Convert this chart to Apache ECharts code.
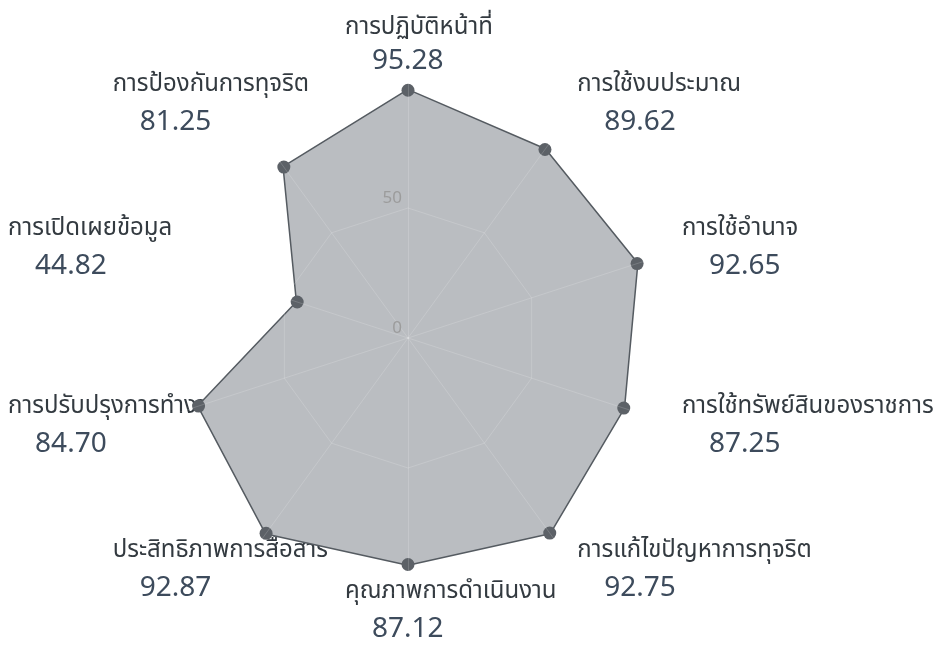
<!DOCTYPE html>
<html>
<head>
<meta charset="utf-8">
<script src="https://cdn.jsdelivr.net/npm/echarts@6/dist/echarts.min.js"></script>
<style>
html,body{margin:0;padding:0;background:#fff;}
#chart{width:945px;height:657px;}
</style>
</head>
<body>
<div id="chart"></div>
<script>
// categories listed clockwise from the top
const categories = ['การปฏิบัติหน้าที่','การใช้งบประมาณ','การใช้อำนาจ','การใช้ทรัพย์สินของราชการ','การแก้ไขปัญหาการทุจริต','คุณภาพการดำเนินงาน','ประสิทธิภาพการสื่อสาร','การปรับปรุงการทำงาน','การเปิดเผยข้อมูล','การป้องกันการทุจริต'];
const scores = [95.28, 89.62, 92.65, 87.25, 92.75, 87.12, 92.87, 84.70, 44.82, 81.25];
const axisMin = 0;
const axisMax = 100;
const axisStep = 50;

const FONT = "'Noto Sans Thai','Noto Sans',sans-serif";
const N = categories.length;
// ECharts radar runs counter-clockwise; reorder so the picture runs clockwise
const order = categories.map((_, i) => (N - i) % N);
const indicators = order.map(i => ({ name: categories[i], min: axisMin, max: axisMax }));
const values = order.map(i => scores[i]);
const topName = categories[0];
const bottomName = categories[N / 2];

const CX = 408, CY = 338, R = 260;

function labelText(name, nameStyle, valStyle, tail) {
  const i = categories.indexOf(name);
  return '{' + nameStyle + '|' + name + '}\n{' + valStyle + '|' + scores[i].toFixed(2) + '}' + (tail ? '\n{' + tail + '| }' : '');
}
const nameRich = { fontFamily: FONT, fontSize: 24, color: '#333a40', width: 126, align: 'left', lineHeight: 38 };
const valRich = { fontFamily: FONT, fontSize: 28, color: '#3d4b5c', width: 99, align: 'left', padding: [0, 0, 0, 27], lineHeight: 38 };
const hidden = { show: false };

const chart = echarts.init(document.getElementById('chart'));
chart.setOption({
  backgroundColor: '#fff',
  polar: { center: [CX, CY], radius: R },
  angleAxis: { startAngle: 90, show: false, min: 0, max: 360 },
  radiusAxis: {
    min: axisMin, max: axisMax, interval: axisStep, z: 6,
    axisLine: hidden, axisTick: hidden, splitLine: hidden,
    axisLabel: { color: '#9c9c9c', fontSize: 17, fontFamily: FONT, showMaxLabel: false, verticalAlign: 'bottom', margin: 6 }
  },
  radar: [
    {
      center: [CX, CY], radius: R, startAngle: 90, shape: 'polygon', splitNumber: 2, z: 3,
      indicator: indicators,
      axisName: hidden,
      axisLine: { lineStyle: { color: 'rgba(255,255,255,0.16)', width: 1 } },
      splitLine: { lineStyle: { color: 'rgba(255,255,255,0.16)', width: 1 } },
      splitArea: hidden,
      axisLabel: hidden, axisTick: hidden
    },
    {
      center: [CX, CY], radius: 288, startAngle: 90, shape: 'polygon', nameGap: 0,
      indicator: indicators,
      axisLine: hidden, splitLine: hidden, splitArea: hidden, axisLabel: hidden, axisTick: hidden,
      axisName: {
        formatter: function (name) {
          if (name === topName || name === bottomName) return '';
          return labelText(name, 'n', 'v');
        },
        rich: { n: nameRich, v: valRich }
      }
    },
    {
      center: [CX, CY], radius: 236, startAngle: 90, shape: 'polygon', nameGap: 0,
      indicator: indicators,
      axisLine: hidden, splitLine: hidden, splitArea: hidden, axisLabel: hidden, axisTick: hidden,
      axisName: {
        formatter: function (name) {
          if (name === topName) return labelText(name, 'nt', 'vt', 'sp');
          if (name === bottomName) return labelText(name, 'n', 'v');
          return '';
        },
        rich: {
          n: nameRich, v: valRich,
          nt: Object.assign({}, nameRich, { lineHeight: 34 }),
          vt: Object.assign({}, valRich, { lineHeight: 34 }),
          sp: { fontSize: 1, lineHeight: 22 }
        }
      }
    }
  ],
  series: [{
    type: 'radar',
    radarIndex: 0,
    symbol: 'circle',
    symbolSize: 13,
    lineStyle: { color: '#555b61', width: 3 },
    itemStyle: { color: '#5c6167' },
    areaStyle: { color: '#babdc1', opacity: 1 },
    data: [{ value: values, name: 'score' }]
  }]
});
</script>
</body>
</html>
